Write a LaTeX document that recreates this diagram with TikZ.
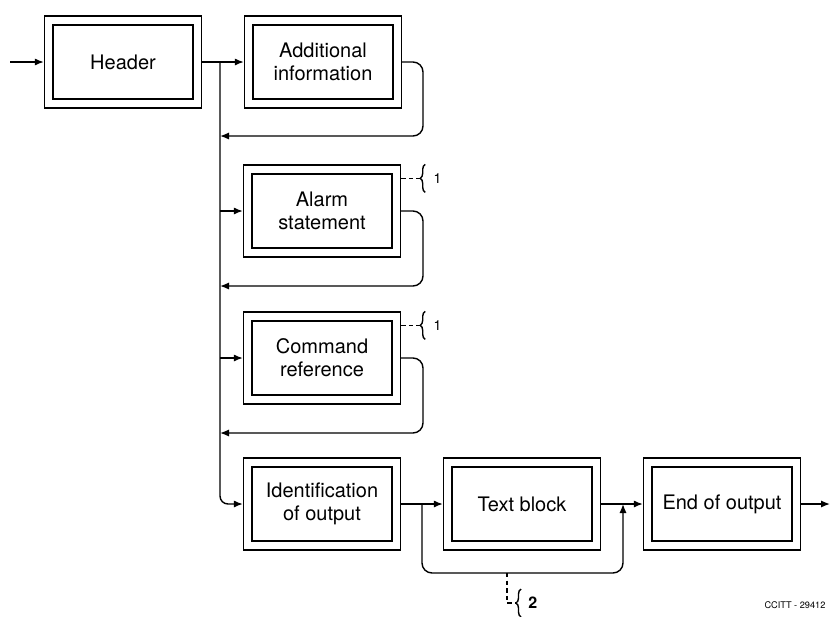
\documentclass[tikz,border=0pt]{standalone}
\usepackage{fontspec}
\setmainfont{TeX Gyre Heros}
\usetikzlibrary{arrows.meta,decorations.pathreplacing}
\tikzstyle{io} = [rectangle, minimum width=70pt, minimum height=37pt, inner sep=0pt, align=center, line width=1.2pt, draw=black]
\tikzstyle{frame} = [rectangle, minimum width=78.5pt, minimum height=46pt, inner sep=0pt, line width=0.7pt, draw=black]
\tikzstyle{arrow} = [line width=0.7pt,->,>={Latex[length=4.5pt,width=3.6pt]}]
\tikzstyle{note} = [line width=0.7pt,dash pattern=on 2.2pt off 1.6pt]
\tikzstyle{brc} = [line width=0.7pt,decorate,decoration={brace,amplitude=2.5pt}]
\begin{document}
\begin{tikzpicture}[x=0.5pt,y=-0.5pt,font=\fontsize{10}{11.5}\selectfont]
\useasboundingbox (0,0) rectangle (830,616);

\foreach \n/\x/\y/\t in {hdr/123/62/{Header}, add/323/62/{Additional\\information},
	alm/322/211/{Alarm\\statement}, cmd/322/358/{Command\\reference},
	id/322/504/{Identification\\of output}, txt/522/504/{Text block}, eoo/722/504/{End of output}}{
\node[frame] (\n-f) at (\x,\y) {};
\node[io] (\n) at (\x,\y) {\t};
}

\coordinate (in) at (10,62);
\coordinate (out) at (830,504);
\coordinate (br) at (220,62);
\coordinate (sp) at (422,504);
\coordinate (jn) at (623,504);
\coordinate (nt) at (507,573);

\draw[arrow] (in) -- (hdr-f.west);
\draw[arrow] (hdr-f.east) -- (add-f.west);
\draw[arrow,rounded corners=4pt] (br) |- (id-f.west);
\foreach \n in {alm,cmd}
	\draw[arrow] (br |- \n-f.west) -- (\n-f.west);
\foreach \n/\y in {add/136,alm/286,cmd/433}
	\draw[arrow,rounded corners=5pt] (\n-f.east) -| (423,\y) coordinate (c) -- (c -| br);

\draw[arrow] (id-f.east) -- (txt-f.west);
\draw[arrow] (txt-f.east) -- (eoo-f.west);
\draw[arrow] (eoo-f.east) -- (out);
\draw[arrow,rounded corners=5pt] (sp) |- (nt) -| (jn);

% notes
\foreach \n in {alm,cmd}{
\draw[note] ([yshift=-7pt]\n-f.north east) -- ++(19,0) coordinate (\n-n);
\draw[brc] ([shift={(2.5pt,-7pt)}]\n-n) -- ([shift={(2.5pt,7pt)}]\n-n);
\node[anchor=west,inner sep=0pt,font=\fontsize{7}{8}\selectfont] (\n-l) at ([xshift=6.5pt]\n-n) {1};
}
\draw[note] (nt) |- (516,603) coordinate (txt-n);
\draw[brc] ([shift={(2.5pt,-7pt)}]txt-n) -- ([shift={(2.5pt,7pt)}]txt-n);
\node[anchor=west,inner sep=0pt,font=\fontsize{8}{9}\bfseries] (txt-l) at ([xshift=6pt]txt-n) {2};

\node[font=\fontsize{4.6}{5}\selectfont] (ref) at (795,605) {CCITT - 29412};
\end{tikzpicture}
\end{document}
